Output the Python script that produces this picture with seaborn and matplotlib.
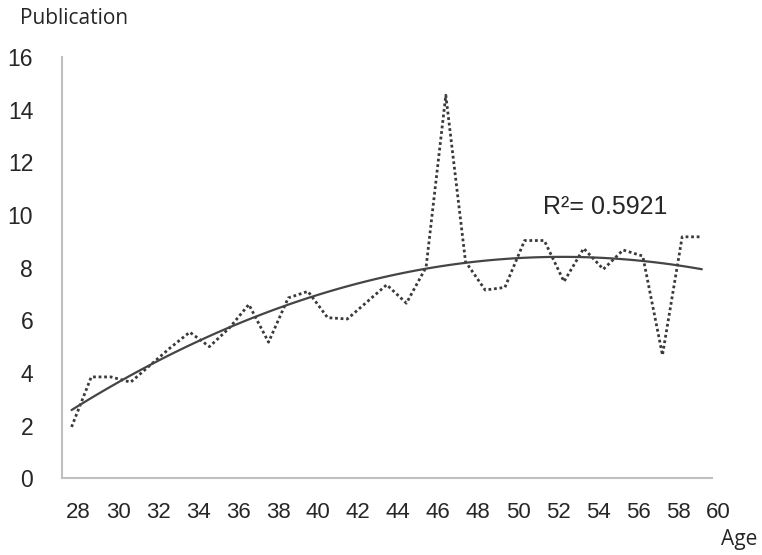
import numpy as np
import pandas as pd
import matplotlib
matplotlib.use("Agg")
import matplotlib.pyplot as plt
import matplotlib.transforms as mtransforms
import seaborn as sns

# Mean publications per researcher age
ages = list(range(28, 61))
publications = [1.95, 3.85, 3.85, 3.65, 4.30, 4.95, 5.55, 5.00, 5.70, 6.60,
                5.17, 6.85, 7.10, 6.10, 6.05, 6.70, 7.35, 6.65, 8.02, 14.55,
                8.23, 7.15, 7.25, 9.03, 9.03, 7.47, 8.73, 7.94, 8.67, 8.44,
                4.68, 9.17, 9.17]
x_tick_labels = [str(a) for a in range(28, 61, 2)]
y_ticks = [0, 2, 4, 6, 8, 10, 12, 14, 16]
r2_text = "R\u00b2= 0.5921"

df = pd.DataFrame({"Age": ages, "Publication": publications})

sns.set_style("white")
plt.rcParams["font.family"] = ["Liberation Sans", "DejaVu Sans"]

fig = plt.figure(figsize=(7.62, 5.55), dpi=100)
ax = fig.add_axes([0.081, 0.1382, 0.853, 0.7591])

# Observed series (dotted) and second-order polynomial trend (solid)
sns.lineplot(data=df, x="Age", y="Publication", ax=ax, color="#3a3a3a",
             linewidth=2.0, linestyle=(0, (1, 1.0)))
sns.regplot(data=df, x="Age", y="Publication", ax=ax, order=2, ci=None,
            scatter=False, line_kws={"color": "#454545", "linewidth": 1.6})

ax.set_xlim(27.5, 60.5)
ax.set_ylim(0, 16)

# Category boundaries carry the ticks, labels sit on every other category
ax.set_xticks(np.arange(27.5, 61.0, 1.0))
ax.set_xticklabels([])
ax.set_xticks(np.arange(28, 61, 2), minor=True)
ax.set_xticklabels(x_tick_labels, minor=True, fontsize=16)
ax.tick_params(axis="x", which="major", direction="out", length=4, width=1.2,
               color="#c0c0c0")
ax.tick_params(axis="x", which="minor", length=0, pad=17)

# labels are laid out on a slightly wider pitch than the categories
for i, lab in enumerate(ax.get_xticklabels(minor=True)):
    dx = (6.5 + 0.6 * i) / 100.0
    lab.set_transform(lab.get_transform()
                      + mtransforms.ScaledTranslation(dx, 0, fig.dpi_scale_trans))

ax.set_yticks(y_ticks)
ax.set_yticklabels([str(v) for v in y_ticks], fontsize=16.5)
ax.tick_params(axis="y", direction="out", length=4, width=1.2,
               color="#c0c0c0", pad=16.5)

for side in ("top", "right"):
    ax.spines[side].set_visible(False)
for side in ("left", "bottom"):
    ax.spines[side].set_color("#c0c0c0")
    ax.spines[side].set_linewidth(1.5)

ax.set_xlabel("")
ax.set_ylabel("")

fig.text(20 / 762, 1 - 18 / 555, "Publication", fontsize=15,
         family=["Open Sans", "DejaVu Sans"], ha="left", va="center")
fig.text(757 / 762, 1 - 540 / 555, "Age", fontsize=15,
         family=["Open Sans", "DejaVu Sans"], ha="right", va="center")

ax.text(51.95, 10.31, r2_text, fontsize=18, ha="left", va="center")

fig.savefig("out.png", dpi=100, facecolor="white")
